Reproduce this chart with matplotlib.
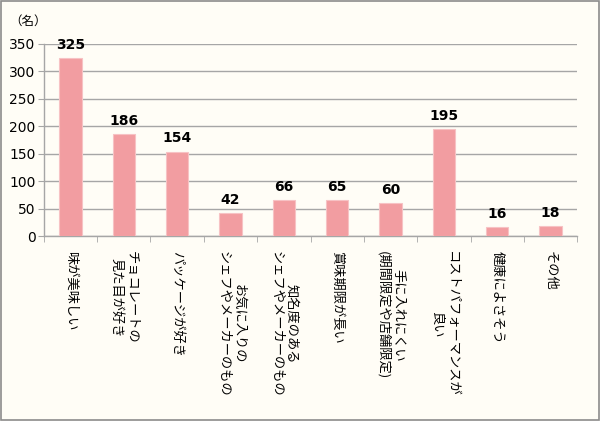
import matplotlib.pyplot as plt
import numpy as np
from matplotlib.patches import Rectangle

plt.rcParams['font.family'] = ['Noto Sans CJK JP', 'DejaVu Sans']

categories = [
    "味が美味しい",
    "チョコレートの\n見た目が好き",
    "パッケージが好き",
    "お気に入りの\nシェフやメーカーのもの",
    "知名度のある\nシェフやメーカーのもの",
    "賞味期限が長い",
    "手に入れにくい\n(期間限定や店舗限定)",
    "コストパフォーマンスが\n良い",
    "健康によさそう",
    "その他",
]
values = [325, 186, 154, 42, 66, 65, 60, 195, 16, 18]
yticks = [0, 50, 100, 150, 200, 250, 300, 350]

bg = '#FFFDF6'
grid_color = '#A6A6A6'

fig = plt.figure(figsize=(6, 4.21), dpi=100, facecolor=bg)
ax = fig.add_axes([0.073, 0.4394, 0.889, 0.4561], facecolor=bg)

x = np.arange(len(categories))
bars = ax.bar(x, values, width=0.42, color='#F29DA1', edgecolor='#F7C2C4',
              linewidth=0.8, zorder=3)

# 柱の上に人数を表示
for bar, v in zip(bars, values):
    ax.text(bar.get_x() + bar.get_width() / 2, v + 11, str(v),
            ha='center', va='bottom', fontsize=10, fontweight='bold',
            family=['DejaVu Sans'])

ax.set_xlim(-0.5, len(categories) - 0.5)
ax.set_ylim(0, 350)
ax.set_yticks(yticks)
ax.set_yticklabels([str(t) for t in yticks], fontsize=10, family=['DejaVu Sans'])
ax.yaxis.grid(True, color=grid_color, linewidth=1.0, zorder=0)

ax.set_xticks(x)
ax.set_xticklabels(categories, rotation=270, fontsize=9.5, ha='center', va='top',
                   multialignment='center', linespacing=1.2)
ax.tick_params(axis='x', length=0, pad=11)
ax.set_xticks(np.arange(-0.5, len(categories)), minor=True)
ax.tick_params(axis='x', which='minor', length=4, color=grid_color, direction='out')
ax.tick_params(axis='y', length=4, color=grid_color, pad=2)

for side in ['top', 'right']:
    ax.spines[side].set_visible(False)
for side in ['left', 'bottom']:
    ax.spines[side].set_color(grid_color)
    ax.spines[side].set_linewidth(1.0)

fig.text(0.015, 0.949, '（名）', fontsize=9, ha='left', va='center')

fig.patches.append(Rectangle((0.001, 0.002), 0.997, 0.995, transform=fig.transFigure,
                             fill=False, edgecolor='#8C8C8C', linewidth=1.2))

fig.savefig('out.png', dpi=100, facecolor=bg)
